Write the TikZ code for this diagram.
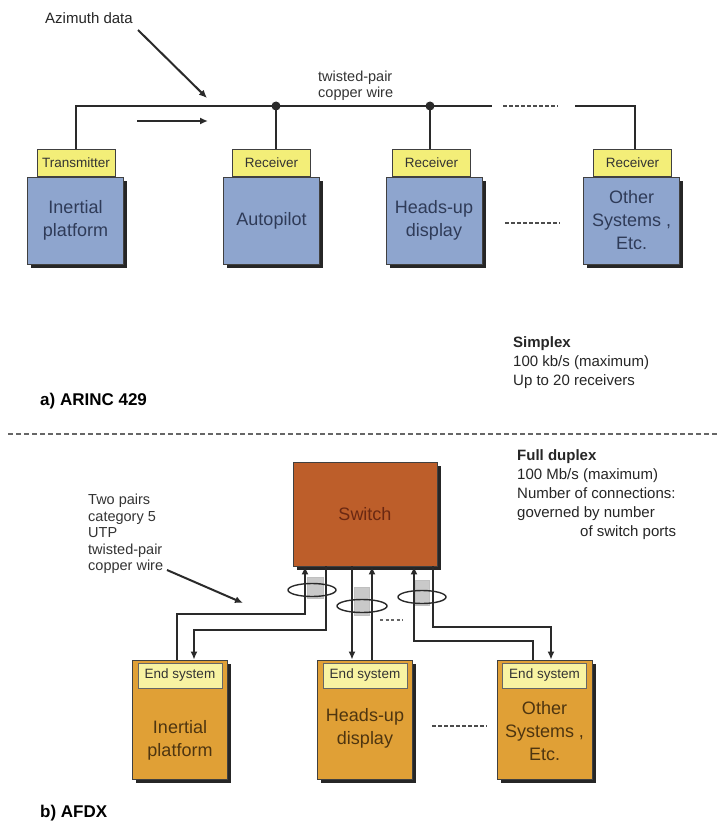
\documentclass[tikz,border=0pt]{standalone}
\usepackage{fontspec}
\setmainfont{Liberation Sans}
\usetikzlibrary{arrows.meta,shadows,calc}
\definecolor{boxblue}{HTML}{8EA5CE}
\definecolor{lblyel}{HTML}{F3EE78}
\definecolor{esorange}{HTML}{E0A036}
\definecolor{eslbl}{HTML}{F8F3A2}
\definecolor{switchcol}{HTML}{BD5E2A}
\definecolor{wirecol}{HTML}{2A2A2A}
\definecolor{bluetext}{HTML}{2F3B58}
\definecolor{browntext}{HTML}{4E3510}
\definecolor{switchtext}{HTML}{6A2812}
\definecolor{pairgray}{HTML}{C9C9C9}
\begin{document}
\begin{tikzpicture}[x=1pt,y=-1pt,
 wire/.style={draw=wirecol,line width=2pt},
 arr/.style={-{Latex[length=8pt,width=7pt]}},
 dots/.style={draw=black!70,line width=1.6pt,dash pattern=on 3.5pt off 2.5pt},
 shad/.style={drop shadow={shadow xshift=3.5pt,shadow yshift=-3.5pt,fill=black!85,opacity=1}},
 sysbox/.style={draw=black!75,line width=0.8pt,fill=boxblue,minimum width=96pt,minimum height=87pt,inner sep=0pt,shad,text=bluetext,font=\fontsize{18}{23}\selectfont,align=center},
 lblbox/.style={draw=black!75,line width=0.8pt,fill=lblyel,minimum width=78pt,minimum height=27pt,inner sep=0pt,text=black!80,font=\fontsize{13.5}{16}\selectfont},
 esbox/.style={draw=black!75,line width=0.8pt,fill=esorange,minimum width=95pt,minimum height=119pt,inner sep=0pt,shad},
 eslabel/.style={draw=black!60,line width=0.6pt,fill=eslbl,minimum width=84pt,minimum height=25pt,inner sep=0pt,text=black!80,font=\fontsize{13.5}{16}\selectfont},
 estext/.style={text=browntext,font=\fontsize{18}{23}\selectfont,align=center,inner sep=0pt},
 note/.style={text=black!85,font=\fontsize{15}{19}\selectfont,align=left,inner sep=0pt},
 small/.style={text=black!80,font=\fontsize{14.5}{16.5}\selectfont,align=left,inner sep=0pt},
 title/.style={text=black,font=\fontsize{17}{20}\selectfont\bfseries,inner sep=0pt},
]
\useasboundingbox[fill=white] (0,0) rectangle (721,824);

% ---------- a) ARINC 429 ----------
\node[note,font=\fontsize{15}{18}\selectfont] (az) at (89,18) {Azimuth data};
\node[small,font=\fontsize{14.5}{16}\selectfont] (tp) at (318,71) [anchor=north west] {twisted-pair\\copper wire};

\node[sysbox] (ip) at (75.5,220.5) {Inertial\\platform};
\node[sysbox] (ap) at (271.5,220.5) {Autopilot};
\node[sysbox] (hud) at (434,220.5) {Heads-up\\display};
\node[sysbox] (oth) at (631.5,220.5) {Other\\Systems ,\\Etc.};

\node[lblbox] (tx) at (76,163) {Transmitter};
\node[lblbox] (rx1) at (271.5,163) {Receiver};
\node[lblbox] (rx2) at (431.5,163) {Receiver};
\node[lblbox] (rx3) at (632.5,163) {Receiver};

\coordinate (j1) at (276,106);
\coordinate (j2) at (430,106);
\coordinate (b1) at (492,106);
\coordinate (d1) at (503,106);
\coordinate (d2) at (558,106);
\coordinate (b2) at (575,106);
\coordinate (b3) at (635,106);
\draw[wire] (tx.north) |- (b1);
\draw[wire] (j1) -- (rx1.north -| j1);
\draw[wire] (j2) -- (rx2.north -| j2);
\draw[dots] (d1) -- (d2);
\draw[wire] (b2) -- (b3) -- (rx3.north -| b3);
\fill[wirecol] (j1) circle (4.5);
\fill[wirecol] (j2) circle (4.5);

\coordinate (azt) at (138,30);
\coordinate (azh) at (207,98);
\draw[wire,arr] (azt) -- (azh);
\coordinate (fl1) at (137,121);
\coordinate (fl2) at (208,121);
\draw[wire,arr] (fl1) -- (fl2);

\coordinate (dd1) at (505,223);
\coordinate (dd2) at (560,223);
\draw[dots] (dd1) -- (dd2);

\node[note] (simplex) at (513,336) [anchor=north west] {\textbf{Simplex}\\100 kb/s (maximum)\\Up to 20 receivers};
\node[title] (ta) at (40,401) [anchor=west] {a) ARINC 429};

\coordinate (s1) at (8,434);
\coordinate (s2) at (718,434);
\draw[draw=black!60,line width=1.6pt,dash pattern=on 5pt off 3pt] (s1) -- (s2);

% ---------- b) AFDX ----------
\node[note] (fd) at (517,449) [anchor=north west] {\textbf{Full duplex}\\100 Mb/s (maximum)\\Number of connections:\\governed by number\\\hspace*{63pt}of switch ports};
\node[small] (twop) at (88,494) [anchor=north west] {Two pairs\\category 5\\UTP\\twisted-pair\\copper wire};
\coordinate (cwt) at (167,570);
\coordinate (cwh) at (243,603);
\draw[wire,arr] (cwt) -- (cwh);

\node[draw=black!75,line width=0.8pt,fill=switchcol,minimum width=144pt,minimum height=104pt,inner sep=0pt,shad,text=switchtext,font=\fontsize{18}{22}\selectfont] (sw) at (365,514) {Switch};

\node[esbox] (es1) at (180,719.5) {};
\node[esbox] (es2) at (365,719.5) {};
\node[esbox] (es3) at (544.5,719.5) {};
\node[eslabel] (l1) at (180,675.5) {End system};
\node[eslabel] (l2) at (365,675.5) {End system};
\node[eslabel] (l3) at (544.5,675.5) {End system};
\node[estext] (t1) at (180,740) {Inertial\\platform};
\node[estext] (t2) at (365,728.5) {Heads-up\\display};
\node[estext] (t3) at (544.5,731.5) {Other\\Systems ,\\Etc.};

\coordinate (dd3) at (432,726);
\coordinate (dd4) at (487,726);
\draw[dots] (dd3) -- (dd4);
\coordinate (dd5) at (380,620);
\coordinate (dd6) at (403,620);
\draw[draw=black!60,line width=1.3pt,dash pattern=on 3pt off 2.5pt] (dd5) -- (dd6);

% twisted pair markers
\fill[pairgray,draw=black!25] (307,577) rectangle (323,598);
\fill[pairgray,draw=black!25] (354,587) rectangle (369,615);
\fill[pairgray,draw=black!25] (415,580) rectangle (429,605);
\draw[wirecol,line width=1.4pt] (312,590) ellipse [x radius=24, y radius=6.5];
\draw[wirecol,line width=1.4pt] (362,606) ellipse [x radius=25, y radius=6.5];
\draw[wirecol,line width=1.4pt] (422,597) ellipse [x radius=24, y radius=6.5];

% wires
\coordinate (e1u) at (177,0);
\coordinate (e1d) at (194,0);
\coordinate (h1u) at (305,614);
\coordinate (h1d) at (326,630);
\coordinate (w2d) at (352,0);
\coordinate (w2u) at (372,0);
\coordinate (e3u) at (533,0);
\coordinate (e3d) at (551,0);
\coordinate (h3u) at (414,641);
\coordinate (h3d) at (433,627);
\draw[wire,arr] (es1.north -| e1u) |- (h1u) -- (sw.south -| h1u);
\draw[wire,arr] (sw.south -| h1d) -- (h1d) -| (es1.north -| e1d);
\draw[wire,arr] (sw.south -| w2d) -- (es2.north -| w2d);
\draw[wire,arr] (es2.north -| w2u) -- (sw.south -| w2u);
\draw[wire,arr] (es3.north -| e3u) |- (h3u) -- (sw.south -| h3u);
\draw[wire,arr] (sw.south -| h3d) -- (h3d) -| (es3.north -| e3d);

\node[title] (tb) at (40,813) [anchor=west] {b) AFDX};
\end{tikzpicture}
\end{document}
